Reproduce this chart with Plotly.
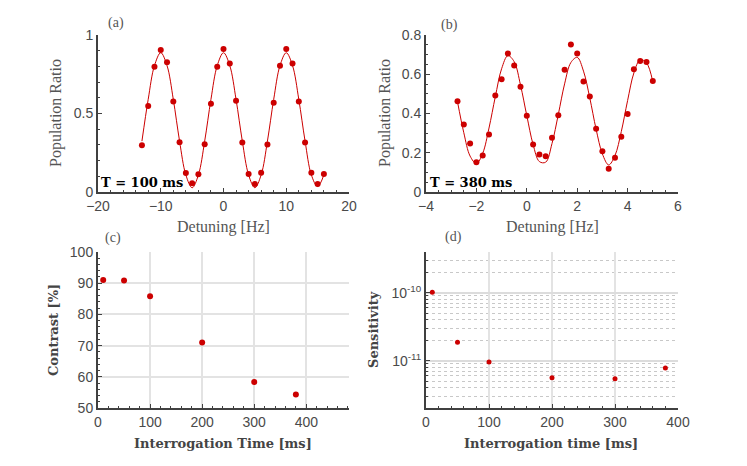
import plotly.graph_objects as go

# (a) Ramsey fringe, T = 100 ms
detuning_a = [-13, -12, -11, -10, -9, -8, -7, -6, -5, -4,
              -3, -2, -1, 0, 1, 2, 3, 4, 5, 6,
              7, 8, 9, 10, 11, 12, 13, 14, 15, 16]
ratio_a = [0.298, 0.547, 0.798, 0.904, 0.826, 0.577, 0.317, 0.121, 0.055, 0.113,
           0.304, 0.562, 0.798, 0.911, 0.819, 0.581, 0.315, 0.115, 0.051, 0.123,
           0.302, 0.568, 0.804, 0.911, 0.819, 0.577, 0.315, 0.123, 0.051, 0.115]
fit_a = [0.324, 0.590, 0.805, 0.887, 0.805, 0.590, 0.324, 0.109, 0.027, 0.109,
         0.324, 0.590, 0.805, 0.887, 0.805, 0.590, 0.324, 0.109, 0.027, 0.109,
         0.324, 0.590, 0.805, 0.887, 0.805, 0.590, 0.324, 0.109, 0.035, 0.109]

# (b) Ramsey fringe, T = 380 ms
detuning_b = [-2.75, -2.5, -2.25, -2.0, -1.75, -1.5, -1.25, -1.0,
              -0.75, -0.5, -0.25, 0.0, 0.25, 0.5, 0.75, 1.0,
              1.25, 1.5, 1.75, 2.0, 2.25, 2.5, 2.75, 3.0,
              3.25, 3.5, 3.75, 4.0, 4.25, 4.5, 4.75, 5.0]
ratio_b = [0.463, 0.344, 0.247, 0.151, 0.186, 0.293, 0.492, 0.575,
           0.706, 0.645, 0.536, 0.388, 0.242, 0.191, 0.182, 0.276,
           0.391, 0.623, 0.752, 0.706, 0.563, 0.487, 0.322, 0.208,
           0.119, 0.175, 0.281, 0.397, 0.625, 0.667, 0.662, 0.565]
fit_b = [0.460, 0.302, 0.183, 0.145, 0.197, 0.326, 0.485, 0.628,
         0.695, 0.664, 0.545, 0.389, 0.242, 0.155, 0.152, 0.247,
         0.395, 0.551, 0.660, 0.686, 0.616, 0.479, 0.320, 0.194,
         0.138, 0.186, 0.308, 0.466, 0.607, 0.674, 0.658, 0.562]

# (c), (d) vs interrogation time
interrogation_time = [10, 50, 100, 200, 300, 380]
contrast = [91.0, 90.9, 85.8, 71.0, 58.3, 54.3]
sensitivity = [1.02e-10, 1.86e-11, 9.5e-12, 5.6e-12, 5.4e-12, 7.8e-12]

RED = "#cc0000"
AX = "#404040"
SERIF = "Liberation Serif"
BOLD_SERIF = "DejaVu Serif"
SANS = "Liberation Sans"
W, H = 747, 466
# the page body adds a small offset, so positions are nudged back
OX, OY = -7, -8


def fx(x):
    return (x + OX) / W


def fy(y):
    return 1 - (y + OY) / H


fig = go.Figure()

fig.add_trace(go.Scatter(x=detuning_a, y=fit_a, mode="lines", line=dict(color=RED, width=1, shape="spline"),
                         xaxis="x", yaxis="y"))
fig.add_trace(go.Scatter(x=detuning_a, y=ratio_a, mode="markers", marker=dict(color=RED, size=6),
                         xaxis="x", yaxis="y"))
fig.add_trace(go.Scatter(x=detuning_b, y=fit_b, mode="lines", line=dict(color=RED, width=1, shape="spline"),
                         xaxis="x2", yaxis="y2"))
fig.add_trace(go.Scatter(x=detuning_b, y=ratio_b, mode="markers", marker=dict(color=RED, size=6),
                         xaxis="x2", yaxis="y2"))
fig.add_trace(go.Scatter(x=interrogation_time, y=contrast, mode="markers", marker=dict(color=RED, size=6),
                         xaxis="x3", yaxis="y3"))
fig.add_trace(go.Scatter(x=interrogation_time, y=sensitivity, mode="markers", marker=dict(color=RED, size=5),
                         xaxis="x4", yaxis="y4"))

base = dict(showline=True, linecolor=AX, linewidth=2, ticks="inside", ticklen=4, tickcolor=AX,
            tickfont=dict(family=SANS, size=14, color="#4a4a4a"), zeroline=False, showgrid=False,
            automargin=False)

top_dom = [fy(192), fy(35)]
bot_dom = [fy(408), fy(252)]
left_dom = [fx(97), fx(348)]
right_dom = [fx(425), fx(677)]


def minor(step, **kw):
    return dict(ticks="inside", ticklen=2, tickcolor=AX, dtick=step, **kw)


fig.update_layout(
    width=W, height=H, autosize=False, showlegend=False,
    paper_bgcolor="white", plot_bgcolor="white",
    margin=dict(l=0, r=0, t=0, b=0, pad=0),
    xaxis=dict(base, domain=left_dom, anchor="y", range=[-20, 20], dtick=10, minor=minor(2)),
    yaxis=dict(base, domain=top_dom, anchor="x", range=[0, 1], dtick=0.5, minor=minor(0.1)),
    xaxis2=dict(base, domain=right_dom, anchor="y2", range=[-4, 6], dtick=2, minor=minor(0.5)),
    yaxis2=dict(base, domain=top_dom, anchor="x2", range=[0, 0.8], dtick=0.2, minor=minor(0.05)),
    xaxis3=dict(base, domain=left_dom, anchor="y3", range=[0, 482], dtick=100,
                showgrid=True, gridcolor="#e3e3e3", gridwidth=1.5, minor=minor(20)),
    yaxis3=dict(base, domain=bot_dom, anchor="x3", range=[50, 100], dtick=10,
                showgrid=True, gridcolor="#e3e3e3", gridwidth=1.5, minor=minor(2)),
    xaxis4=dict(base, domain=right_dom, anchor="y4", range=[0, 400], dtick=100,
                showgrid=True, gridcolor="#e3e3e3", gridwidth=1.5, minor=minor(20)),
    yaxis4=dict(base, domain=bot_dom, anchor="x4", type="log",
                range=[-11.699, -9.398],
                tickvals=[1e-11, 1e-10], ticktext=["10<sup>-11</sup>", "10<sup>-10</sup>"],
                showgrid=True, gridcolor="#dcdcdc", gridwidth=1.5,
                minor=minor("D1", showgrid=True, gridcolor="#c8c8c8", griddash="dot", gridwidth=1)),
)

TXT = "#555555"
notes = [
    ("(a)", 115, 23, 14, SERIF, TXT, 0),
    ("(b)", 448, 25, 14, SERIF, TXT, 0),
    ("(c)", 112, 238, 14, SERIF, TXT, 0),
    ("(d)", 452, 237, 14, SERIF, TXT, 0),
    ("Detuning [Hz]", 222, 227, 16, SERIF, TXT, 0),
    ("Detuning [Hz]", 551, 227, 16, SERIF, TXT, 0),
    ("Population Ratio", 55, 113, 16, SERIF, TXT, -90),
    ("Population Ratio", 384, 113, 16, SERIF, TXT, -90),
    ("<b>Interrogation Time [ms]</b>", 222, 443, 13, BOLD_SERIF, "#444444", 0),
    ("<b>Interrogation time [ms]</b>", 550, 443, 13, BOLD_SERIF, "#444444", 0),
    ("<b>Contrast [%]</b>", 52, 330, 13, BOLD_SERIF, "#444444", -90),
    ("<b>Sensitivity</b>", 372, 330, 13, BOLD_SERIF, "#444444", -90),
    ("<b>T = 100 ms</b>", 141, 182, 13, BOLD_SERIF, "black", 0),
    ("<b>T = 380 ms</b>", 470, 183, 13, BOLD_SERIF, "black", 0),
]
for text, x, y, size, fam, col, ang in notes:
    fig.add_annotation(text=text, x=fx(x), y=fy(y), xref="paper", yref="paper", showarrow=False,
                       xanchor="center", yanchor="middle", textangle=ang,
                       font=dict(family=fam, size=size, color=col))

fig.write_html("out.html")
